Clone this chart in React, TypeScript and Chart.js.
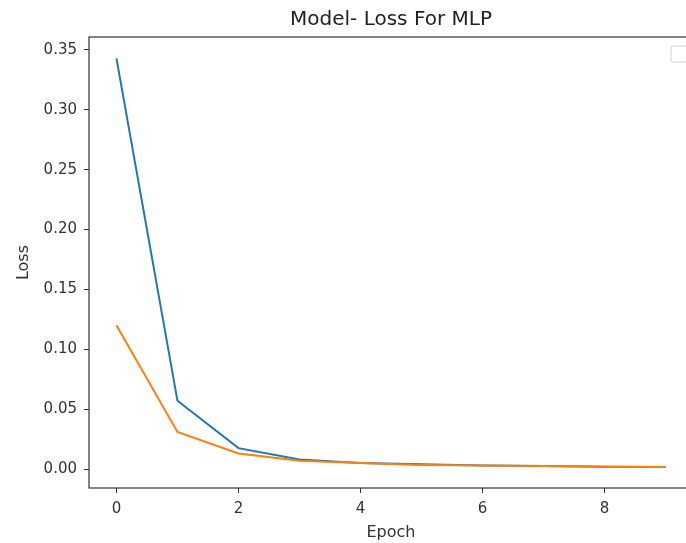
import React, { useEffect, useRef } from "react";
import { Chart, registerables } from "chart.js";

Chart.register(...registerables);

const epochs = [0, 1, 2, 3, 4, 5, 6, 7, 8, 9];
const trainLoss = [0.343, 0.057, 0.0175, 0.008, 0.005, 0.004, 0.003, 0.0025, 0.002, 0.0018];
const valLoss = [0.12, 0.031, 0.013, 0.007, 0.005, 0.0035, 0.003, 0.0025, 0.002, 0.0017];
const xTicks = [0, 2, 4, 6, 8];
const yTicks = [0, 0.05, 0.1, 0.15, 0.2, 0.25, 0.3, 0.35];
const titleText = "Model- Loss For MLP";
const xLabel = "Epoch";
const yLabel = "Loss";

const FONT = "'DejaVu Sans', sans-serif";

const framePlugin = {
  id: "frame",
  afterDraw(chart: any) {
    const { ctx, chartArea } = chart;
    const { left, top, right, bottom } = chartArea;
    ctx.save();
    ctx.strokeStyle = "#333";
    ctx.lineWidth = 1.2;
    ctx.strokeRect(left, top, right - left, bottom - top);
    // title
    ctx.fillStyle = "#222";
    ctx.font = `20px ${FONT}`;
    ctx.textAlign = "center";
    ctx.textBaseline = "middle";
    ctx.fillText(titleText, (left + right) / 2, 20);
    // empty legend box
    ctx.strokeStyle = "#d0d0d0";
    ctx.lineWidth = 1;
    const lx = right - 22;
    const ly = top + 9;
    ctx.beginPath();
    (ctx as any).roundRect(lx, ly, 16, 16, 2);
    ctx.stroke();
    ctx.restore();
  },
};

export default function App() {
  const ref = useRef<HTMLCanvasElement>(null);
  useEffect(() => {
    if (!ref.current) return;
    const chart = new Chart(ref.current, {
      type: "line",
      data: {
        datasets: [
          {
            label: "train",
            data: epochs.map((e, i) => ({ x: e, y: trainLoss[i] })),
            borderColor: "#1f77b4",
            backgroundColor: "#1f77b4",
            borderWidth: 2,
            pointRadius: 0,
            tension: 0,
            order: 2,
          },
          {
            label: "val",
            data: epochs.map((e, i) => ({ x: e, y: valLoss[i] })),
            borderColor: "#ff7f0e",
            backgroundColor: "#ff7f0e",
            borderWidth: 2,
            pointRadius: 0,
            tension: 0,
            order: 1,
          },
        ],
      },
      options: {
        responsive: false,
        animation: false,
        layout: { padding: { left: 0, top: 37, right: 7, bottom: 0 } },
        plugins: {
          legend: { display: false },
          tooltip: { enabled: false },
          title: { display: false },
        },
        scales: {
          x: {
            type: "linear",
            min: -0.45,
            max: 9.45,
            afterBuildTicks: (s: any) => {
              s.ticks = xTicks.map((v) => ({ value: v }));
            },
            afterFit: (s: any) => {
              s.height = 55;
            },
            border: { display: false },
            grid: {
              drawOnChartArea: false,
              drawTicks: true,
              tickLength: 5,
              color: "#333",
              lineWidth: 1,
            },
            ticks: {
              color: "#333",
              font: { family: FONT, size: 15 },
              padding: 7,
              maxRotation: 0,
              callback: (v: any) => String(v),
            },
            title: {
              display: true,
              text: xLabel,
              color: "#333",
              font: { family: FONT, size: 16 },
              padding: { top: 0, bottom: 1 },
            },
          },
          y: {
            type: "linear",
            min: -0.0158,
            max: 0.3608,
            afterBuildTicks: (s: any) => {
              s.ticks = yTicks.map((v) => ({ value: v }));
            },
            afterFit: (s: any) => {
              s.width = 89;
            },
            border: { display: false },
            grid: {
              drawOnChartArea: false,
              drawTicks: true,
              tickLength: 5,
              color: "#333",
              lineWidth: 1,
            },
            ticks: {
              color: "#333",
              font: { family: FONT, size: 15 },
              padding: 7,
              callback: (v: any) => Number(v).toFixed(2),
            },
            title: {
              display: true,
              text: yLabel,
              color: "#333",
              font: { family: FONT, size: 16 },
              padding: { top: 14, bottom: 0 },
            },
          },
        },
      },
      plugins: [framePlugin],
    });
    return () => chart.destroy();
  }, []);
  return (
    <div
      style={{
        position: "fixed",
        left: 0,
        top: 0,
        width: 686,
        height: 543,
        overflow: "hidden",
        background: "#fff",
      }}
    >
      <canvas ref={ref} width={700} height={543} style={{ display: "block" }} />
    </div>
  );
}
